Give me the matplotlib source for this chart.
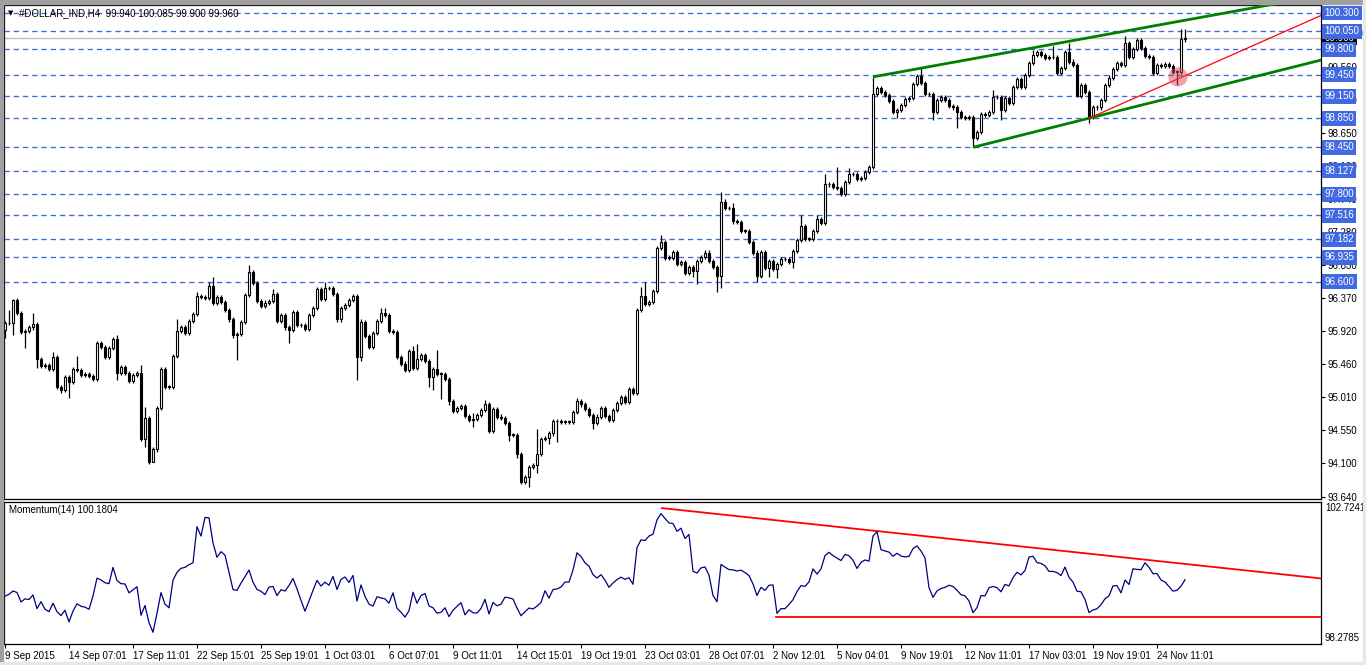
import numpy as np
import matplotlib.pyplot as plt
from matplotlib.transforms import blended_transform_factory
from matplotlib.patches import Rectangle

plt.rcParams['font.family'] = ['Liberation Sans', 'DejaVu Sans']

# H4 closes (one per bar)
closes = [
    96.03, 96.03, 96.35, 96.17, 95.91, 95.92, 95.97, 96.01, 95.53, 95.44,
    95.45, 95.40, 95.56, 95.15, 95.11, 95.29, 95.22, 95.40, 95.38, 95.31,
    95.33, 95.30, 95.26, 95.75, 95.70, 95.56, 95.69, 95.81, 95.34, 95.42,
    95.34, 95.23, 95.31, 95.34, 94.43, 94.72, 94.12, 94.29, 94.86, 95.40,
    95.15, 95.15, 95.58, 95.92, 95.97, 95.89, 96.06, 96.15, 96.40, 96.39,
    96.38, 96.54, 96.31, 96.39, 96.32, 96.21, 96.08, 95.86, 95.88, 96.04,
    96.42, 96.73, 96.58, 96.33, 96.26, 96.31, 96.33, 96.43, 96.06, 96.14,
    95.97, 95.93, 96.18, 96.00, 96.00, 95.95, 96.14, 96.24, 96.50, 96.36,
    96.51, 96.51, 96.43, 96.08, 96.24, 96.28, 96.35, 96.40, 95.56, 96.04,
    95.85, 95.70, 95.89, 96.06, 96.17, 96.14, 95.92, 95.91, 95.56, 95.47,
    95.38, 95.64, 95.41, 95.53, 95.59, 95.51, 95.29, 95.40, 95.33, 95.33,
    95.26, 94.96, 94.82, 94.86, 94.89, 94.75, 94.69, 94.71, 94.76, 94.83,
    94.91, 94.54, 94.85, 94.74, 94.72, 94.65, 94.49, 94.49, 94.23, 93.84,
    93.91, 94.05, 94.07, 94.23, 94.43, 94.44, 94.51, 94.68, 94.68, 94.67,
    94.67, 94.67, 94.80, 94.96, 94.91, 94.85, 94.76, 94.65, 94.74, 94.86,
    94.75, 94.69, 94.83, 94.93, 95.01, 94.94, 95.12, 95.07, 96.21, 96.40,
    96.29, 96.32, 96.47, 97.06, 97.15, 96.93, 96.93, 97.01, 96.84, 96.87,
    96.72, 96.80, 96.75, 96.88, 96.94, 97.00, 96.88, 96.80, 96.68, 97.70,
    97.61, 97.61, 97.43, 97.42, 97.30, 97.30, 97.15, 97.00, 96.68, 97.01,
    96.79, 96.88, 96.77, 96.84, 96.91, 96.91, 96.87, 97.02, 97.17, 97.37,
    97.19, 97.19, 97.30, 97.46, 97.41, 97.94, 97.94, 97.90, 97.89, 97.81,
    97.97, 98.08, 98.08, 98.01, 98.03, 98.11, 98.18, 99.18, 99.27, 99.21,
    99.17, 99.09, 98.94, 98.96, 99.03, 99.11, 99.13, 99.32, 99.43, 99.34,
    99.18, 99.18, 98.94, 99.10, 99.14, 99.10, 99.02, 99.00, 98.94, 98.87,
    98.85, 98.87, 98.58, 98.66, 98.91, 98.90, 98.94, 99.14, 99.14, 98.96,
    99.13, 99.06, 99.28, 99.39, 99.28, 99.45, 99.61, 99.72, 99.76, 99.72,
    99.68, 99.69, 99.69, 99.47, 99.54, 99.76, 99.63, 99.58, 99.16, 99.31,
    99.21, 98.87, 99.00, 99.00, 99.10, 99.31, 99.41, 99.53, 99.61, 99.58,
    99.89, 99.69, 99.80, 99.93, 99.82, 99.71, 99.69, 99.47, 99.58, 99.57,
    99.60, 99.57, 99.49, 99.49, 99.94, 99.96,
]
# the 14 closes before the first visible bar (needed for Momentum(14))
closes_prior = [96.31, 96.25, 96.46, 96.33, 96.38, 96.29, 96.36,
                96.25, 96.22, 95.90, 96.16, 96.19, 96.07, 95.94]

# visible long wicks (bar index -> price)
highs = {1: 96.21, 2: 96.36, 7: 96.17, 12: 95.63, 18: 95.58, 23: 95.78, 28: 95.86,
         34: 95.45, 35: 94.87, 43: 96.09, 48: 96.46, 51: 96.59, 52: 96.66, 61: 96.83,
         67: 96.50, 80: 96.59, 89: 96.09, 94: 96.24, 95: 96.24, 102: 95.71, 103: 95.74,
         108: 95.66, 117: 94.79, 120: 94.97, 133: 94.57, 143: 95.00, 159: 96.53,
         160: 96.60, 164: 97.24, 179: 97.83, 180: 97.74, 182: 97.68, 199: 97.52,
         203: 97.52, 205: 98.08, 208: 98.18, 211: 98.16, 217: 99.42, 229: 99.54,
         247: 99.24, 257: 99.79, 262: 99.85, 266: 99.88, 280: 99.98, 283: 99.96,
         294: 100.08, 295: 100.085}
lows = {0: 95.82, 2: 95.86, 5: 95.69, 8: 95.41, 14: 95.07, 16: 95.00, 28: 95.24,
        35: 94.32, 37: 94.14, 58: 95.52, 71: 95.75, 88: 95.25, 89: 95.51, 106: 95.15,
        107: 95.11, 109: 94.98, 111: 94.90, 117: 94.60, 121: 94.51, 126: 94.40,
        128: 94.17, 129: 93.81, 131: 93.77, 133: 93.96, 136: 94.36, 138: 94.39,
        147: 94.57, 172: 96.66, 173: 96.57, 178: 96.46, 179: 96.51, 188: 96.59,
        191: 96.66, 193: 96.65, 197: 96.79, 223: 98.85, 232: 98.83, 238: 98.72,
        242: 98.45, 249: 98.83, 268: 99.14, 271: 98.78, 293: 99.31, 295: 99.90}

levels = [100.300, 100.050, 99.800, 99.450, 99.150, 98.850, 98.450,
          98.127, 97.800, 97.516, 97.182, 96.935, 96.600]
price_ticks = [93.640, 94.100, 94.550, 95.010, 95.460, 95.920, 96.370, 96.830,
               97.280, 97.740, 98.190, 98.650, 99.100, 99.560, 100.020]
date_labels = ["9 Sep 2015", "14 Sep 07:01", "17 Sep 11:01", "22 Sep 15:01",
               "25 Sep 19:01", "1 Oct 03:01", "6 Oct 07:01", "9 Oct 11:01",
               "14 Oct 15:01", "19 Oct 19:01", "23 Oct 03:01", "28 Oct 07:01",
               "2 Nov 12:01", "5 Nov 04:01", "9 Nov 19:01", "12 Nov 11:01",
               "17 Nov 03:01", "19 Nov 19:01", "24 Nov 11:01"]
date_idx = list(range(0, 16 * len(date_labels), 16))

upper_channel = [(217, 99.42), (330, 100.55)]
lower_channel = [(242, 98.45), (330, 99.665)]
support_line = [(271, 98.85), (330, 100.29)]
mark_point = (293.25, 99.42)
mom_resist = [(164.25, 102.72), (330, 100.30)]
mom_support = [(192.75, 98.99), (330, 98.99)]
mom_max_label = 102.7241
mom_min_label = 98.2785

c = np.array(closes)
o = np.r_[closes_prior[-1], c[:-1]]
hi = np.maximum(o, c) + 0.03
lo = np.minimum(o, c) - 0.03
for k, v in highs.items():
    hi[k] = max(v, o[k], c[k])
for k, v in lows.items():
    lo[k] = min(v, o[k], c[k])
allc = np.r_[closes_prior, c]
mom = allc[14:] / allc[:-14] * 100
x = np.arange(len(c))

W, H = 1366, 665
fig = plt.figure(figsize=(W / 100, H / 100), dpi=100)
fig.patch.set_facecolor('white')
ax = fig.add_axes([4 / W, 1 - 499 / H, 1317 / W, 494 / H])
axm = fig.add_axes([4 / W, 1 - 644 / H, 1317 / W, 142 / H])

blue = '#4169E1'
ax.set_xlim(-0.25, 329)
ax.set_ylim(93.606, 100.41)
for lv in levels:
    ax.axhline(lv, color=blue, lw=0.95, ls=(0, (4, 3)), zorder=1)
ax.axhline(c[-1], color='#C0C0C0', lw=1, zorder=1)

up = c >= o
bot = np.minimum(o, c)
hgt = np.maximum(np.abs(c - o), 0.006)
ax.vlines(x, lo, hi, color='black', lw=0.9, zorder=3)
ax.bar(x[up], hgt[up], bottom=bot[up], width=0.6, color='white',
       edgecolor='black', lw=0.8, zorder=4)
ax.bar(x[~up], hgt[~up], bottom=bot[~up], width=0.6, color='black',
       edgecolor='black', lw=0.8, zorder=4)

for line in (upper_channel, lower_channel):
    ax.plot(*zip(*line), color='#008000', lw=2.0, zorder=5, solid_capstyle='butt')
ax.plot(*zip(*support_line), color='red', lw=0.9, zorder=5)
ax.scatter([mark_point[0]], [mark_point[1]], s=190, color='#E04858', alpha=0.5,
           edgecolor='none', zorder=6)

ax.set_xticks([])
ax.yaxis.tick_right()
ax.set_yticks(price_ticks)
ax.set_yticklabels(['%.3f' % t for t in price_ticks])
ax.tick_params(axis='y', direction='out', length=3, width=0.8, pad=2, labelsize=7)

tr = blended_transform_factory(ax.transAxes, ax.transData)
ax.text(1.0025, c[-1], '%.3f' % c[-1], transform=tr, ha='left', va='center',
        color='white', fontsize=7, zorder=9, clip_on=False,
        bbox=dict(boxstyle='square,pad=0.25', fc='black', ec='none'))
for lv in levels:
    ax.text(1.0025, lv, '%.3f' % lv, transform=tr, ha='left', va='center',
            color='white', fontsize=7, zorder=10, clip_on=False,
            bbox=dict(boxstyle='square,pad=0.25', fc=blue, ec='none'))

ax.text(4 / 1317, 0.984, '\u25bc', transform=ax.transAxes, fontsize=5,
        va='center', ha='left', family='DejaVu Sans', zorder=8)
ax.text(15 / 1317, 0.984,
        '#DOLLAR_IND,H4  %.3f %.3f %.3f %.3f' % (o[-1], hi[-1], lo[-1], c[-1]),
        transform=ax.transAxes, fontsize=7, va='center', ha='left', zorder=8)

# momentum pane
axm.set_xlim(-0.25, 329)
axm.set_ylim(98.073, 102.929)
axm.plot(x, mom, color='#000080', lw=0.9, zorder=3)
axm.plot(*zip(*mom_resist), color='red', lw=1.3, zorder=2)
axm.plot(*zip(*mom_support), color='red', lw=1.3, zorder=2)
axm.text(5 / 1317, 0.944, 'Momentum(14) 100.1804', transform=axm.transAxes,
         fontsize=7, va='center', ha='left')
trm = blended_transform_factory(axm.transAxes, axm.transData)
for v in (mom_max_label, mom_min_label):
    axm.text(1.003, v, '%.4f' % v, transform=trm, ha='left', va='center',
             fontsize=7, clip_on=False)
axm.set_yticks([])
axm.set_xticks(date_idx)
axm.set_xticklabels(date_labels)
for lab in axm.get_xticklabels():
    lab.set_horizontalalignment('left')
axm.tick_params(axis='x', direction='out', length=3, width=0.8, pad=2, labelsize=7)

for a in (ax, axm):
    for s in a.spines.values():
        s.set_color('black')
        s.set_linewidth(0.9)

# window frame
fig.add_artist(Rectangle((0, 0), 3 / W, 1, transform=fig.transFigure,
                         color='#A0A0A0', zorder=20))
fig.add_artist(Rectangle((0, 1 - 4 / H), 1, 4 / H, transform=fig.transFigure,
                         color='#A0A0A0', zorder=20))
fig.add_artist(Rectangle((0, 0), 1, 3 / H, transform=fig.transFigure,
                         color='#E8E8E8', zorder=20))
fig.add_artist(Rectangle((1 - 3 / W, 0), 3 / W, 1, transform=fig.transFigure,
                         color='#E8E8E8', zorder=20))

fig.savefig('out.png', dpi=100)
